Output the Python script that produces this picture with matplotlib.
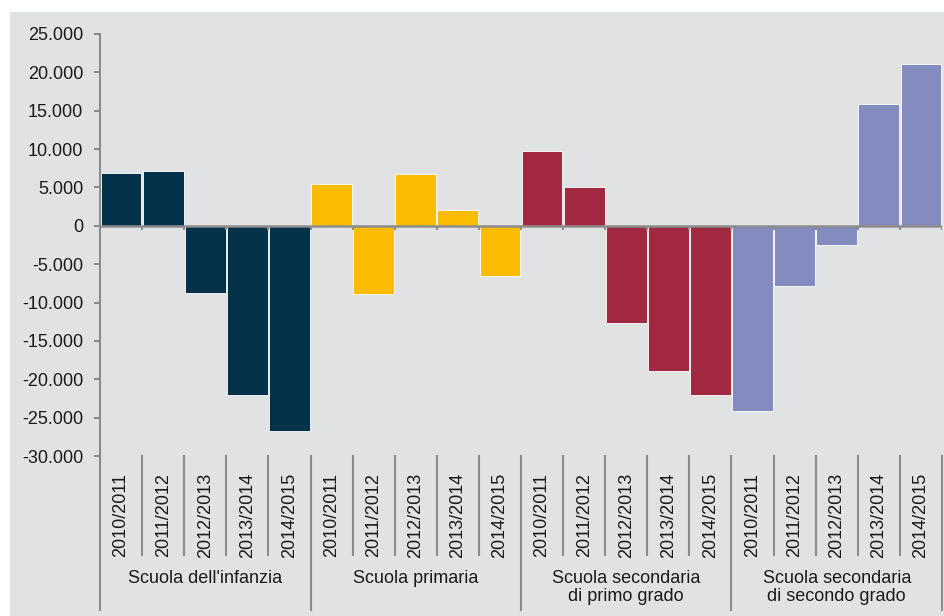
import matplotlib.pyplot as plt
import matplotlib.ticker as mticker
from matplotlib.patches import Rectangle
from matplotlib.transforms import blended_transform_factory

plt.rcParams['font.family'] = ['Liberation Sans', 'DejaVu Sans']

years = ["2010/2011", "2011/2012", "2012/2013", "2013/2014", "2014/2015"]
groups = ["Scuola dell'infanzia", "Scuola primaria",
          "Scuola secondaria\ndi primo grado", "Scuola secondaria\ndi secondo grado"]
colors = ["#02324a", "#fbbc00", "#a22942", "#838bbf"]

infanzia = [6900, 7100, -8800, -22100, -26800]
primaria = [5500, -8900, 6800, 2000, -6500]
sec_primo = [9700, 5000, -12700, -18900, -22100]
sec_secondo = [-24200, -7800, -2500, 15900, 21100]
series = [infanzia, primaria, sec_primo, sec_secondo]

fig = plt.figure(figsize=(9.44, 6.16), dpi=100)
# grey panel behind everything
fig.patches.append(Rectangle((10 / 944, 0), 1, 1 - 12 / 616, transform=fig.transFigure,
                             facecolor="#e1e2e4", edgecolor="none", zorder=-10))
ax = fig.add_axes([100 / 944, 1 - 456 / 616, 842 / 944, 422 / 616])
ax.set_facecolor("none")

n = len(years)
for g, vals in enumerate(series):
    xs = [g * n + i for i in range(n)]
    ax.bar(xs, vals, width=0.97, color=colors[g], edgecolor="white", linewidth=0.6, zorder=2)

total = n * len(groups)
ax.set_xlim(-0.5, total - 0.5)
ax.set_ylim(-30000, 25000)
ax.set_yticks(range(-30000, 25001, 5000))
ax.yaxis.set_major_formatter(mticker.FuncFormatter(lambda v, p: f"{int(v):,}".replace(",", ".")))

axis_col = "#8c8c8c"
for s in ["top", "right", "bottom"]:
    ax.spines[s].set_visible(False)
ax.spines["left"].set_color(axis_col)
ax.spines["left"].set_linewidth(1.5)
ax.tick_params(axis="y", colors=axis_col, labelcolor="#1a1a1a", labelsize=13,
               length=4, width=1.5, pad=8)

# zero line with little ticks at category boundaries
ax.axhline(0, color=axis_col, lw=1.8, zorder=3)
bounds = [k - 0.5 for k in range(total + 1)]
ax.vlines(bounds, -550, 0, color=axis_col, lw=1.5, zorder=3)

# category labels
ax.set_xticks(range(total))
ax.set_xticklabels(years * len(groups), rotation=90, fontsize=13, color="#1a1a1a")
ax.tick_params(axis="x", length=0, pad=12)

# separators below the plot
tr = blended_transform_factory(ax.transData, ax.transAxes)
for k, b in enumerate(bounds):
    low = -0.365 if k % n == 0 else -0.235
    ax.plot([b, b], [0, low], transform=tr, color=axis_col, lw=1.5, clip_on=False)

for g, name in enumerate(groups):
    ax.text(g * n + (n - 1) / 2, -0.27, name, transform=tr, ha="center", va="top",
            fontsize=13, color="#1a1a1a", linespacing=1.05)

fig.savefig("out.png", dpi=100)
